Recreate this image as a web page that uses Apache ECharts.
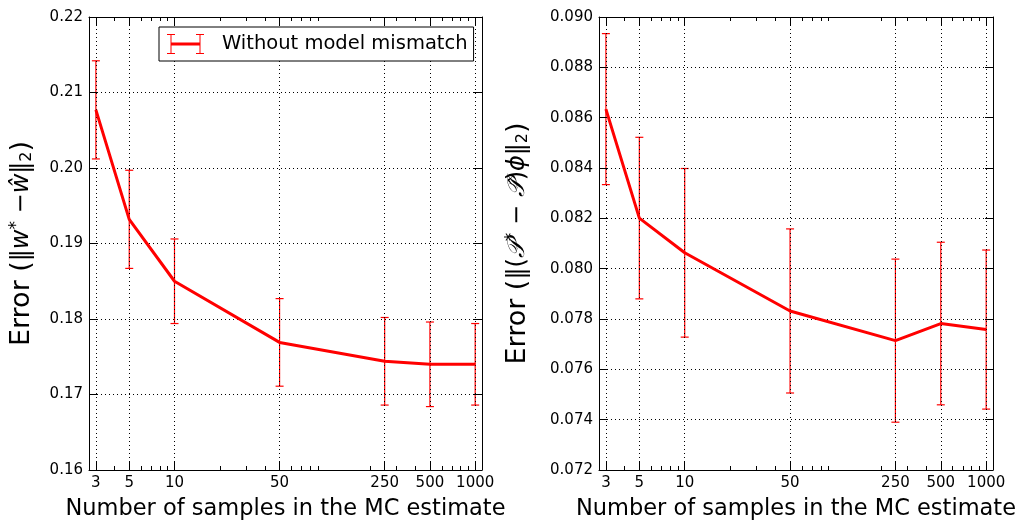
<!DOCTYPE html>
<html>
<head>
<meta charset="utf-8">
<title>Error vs number of MC samples</title>
<script src="https://cdn.jsdelivr.net/npm/echarts@6.0.0/dist/echarts.min.js"></script>
<style>
  html, body { margin: 0; padding: 0; background: #fff; }
  #chart { width: 1019px; height: 520px; }
</style>
</head>
<body>
<div id="chart"></div>
<script>
// number of samples (log x axis)
const samples = [3, 5, 10, 50, 250, 500, 1000]
const xTickLabels = [3, 5, 10, 50, 250, 500, 1000]
const xMinorTicks = [4, 6, 7, 8, 9, 20, 30, 40, 60, 70, 80, 90, 200, 300, 400, 600, 700, 800, 900]

// left panel: ||w* - w^||_2, mean and std
const errW = [0.2077, 0.1932, 0.1850, 0.1769, 0.1744, 0.1740, 0.1740]
const errWStd = [0.0065, 0.0065, 0.0056, 0.0058, 0.0058, 0.0056, 0.0054]

// right panel: ||(P* - P^)phi||_2, mean and std
const errP = [0.08634, 0.08201, 0.08063, 0.07832, 0.07714, 0.07782, 0.07758]
const errPStd = [0.00300, 0.00321, 0.00335, 0.00326, 0.00324, 0.00323, 0.00316]

// y ranges
const leftY = { min: 0.16, max: 0.22, interval: 0.01 }
const rightY = { min: 0.072, max: 0.090, interval: 0.002 }

const legendName = 'Without model mismatch'
const font = 'DejaVu Sans'
const red = '#ff0000'
const dotted = { color: '#000', width: 1, type: [1, 3] }

// legend icon: a little errorbar (two I-caps joined by a thick line)
const legendIcon = 'path://M0,0h8v1h-8z M3.5,0h1v20h-1z M0,19h8v1h-8z' +
  ' M29,0h8v1h-8z M32.5,0h1v20h-1z M29,19h8v1h-8z M4,8.5h29v3h-29z'

function errorBar(params, api) {
  const x = api.value(0)
  const top = api.coord([x, api.value(2)])
  const bot = api.coord([x, api.value(1)])
  const half = 4
  const style = { stroke: red, lineWidth: 1.2 }
  return {
    type: 'group',
    children: [
      { type: 'line', shape: { x1: top[0], y1: top[1], x2: bot[0], y2: bot[1] }, style },
      { type: 'line', shape: { x1: top[0] - half, y1: top[1], x2: top[0] + half, y2: top[1] }, style },
      { type: 'line', shape: { x1: bot[0] - half, y1: bot[1], x2: bot[0] + half, y2: bot[1] }, style }
    ]
  }
}

function makeXAxes(gridIndex) {
  const base = {
    type: 'log', gridIndex, min: 2.7, max: 1110, z: 1.5,
    axisLine: { show: false }, axisTick: { show: false },
    axisLabel: { show: false }, splitLine: { show: false }
  }
  const frame = { show: true, onZero: false, lineStyle: { color: '#000', width: 1 } }
  const major = { show: true, inside: true, length: 8, customValues: samples, lineStyle: { color: '#000' } }
  const minor = { show: true, inside: true, length: 4, customValues: xMinorTicks, lineStyle: { color: '#000' } }
  return [
    {
      ...base,
      position: 'bottom',
      name: 'Number of samples in the MC estimate',
      nameLocation: 'middle',
      nameGap: 26,
      nameTextStyle: { fontSize: 22.5, lineHeight: 26, color: '#000', fontFamily: font },
      axisLine: frame,
      axisTick: major,
      axisLabel: {
        show: true, customValues: xTickLabels, margin: 6,
        fontSize: 15, color: '#000', fontFamily: font,
        formatter: v => String(Math.round(v))
      },
      splitLine: { show: true, lineStyle: dotted }
    },
    { ...base, position: 'bottom', axisTick: minor },
    { ...base, position: 'top', axisLine: frame, axisTick: major },
    { ...base, position: 'top', axisTick: minor }
  ]
}

function makeYAxes(gridIndex, range, digits, name, nameGap) {
  const base = {
    type: 'value', gridIndex, min: range.min, max: range.max, interval: range.interval, z: 1.5,
    axisLine: { show: true, onZero: false, lineStyle: { color: '#000', width: 1 } },
    axisTick: { show: true, inside: true, length: 8, lineStyle: { color: '#000' } }
  }
  const txt = { fontFamily: font, color: '#000' }
  return [
    {
      ...base,
      position: 'left',
      name,
      nameLocation: 'middle',
      nameGap,
      nameTextStyle: {
        fontSize: 28, fontFamily: font, color: '#000', lineHeight: 34,
        rich: {
          t: { ...txt, fontSize: 27, lineHeight: 34 },
          m: { ...txt, fontSize: 24, lineHeight: 34 },
          i: { ...txt, fontSize: 24, fontStyle: 'italic', lineHeight: 34 },
          sup: { ...txt, fontSize: 17, lineHeight: 17, verticalAlign: 'top', padding: [3, 0, 0, 0] },
          sub: { ...txt, fontSize: 16, lineHeight: 16, verticalAlign: 'bottom', padding: [0, 0, 4, 0] }
        }
      },
      axisLabel: {
        margin: 6, fontSize: 15, color: '#000', fontFamily: font,
        formatter: v => v.toFixed(digits)
      },
      splitLine: { show: true, lineStyle: dotted }
    },
    { ...base, position: 'right', axisLabel: { show: false }, splitLine: { show: false } }
  ]
}

function panelSeries(xi, yi, name, means, stds) {
  return [
    {
      type: 'custom',
      xAxisIndex: xi,
      yAxisIndex: yi,
      z: 1,
      silent: true,
      renderItem: errorBar,
      encode: { x: 0, y: [1, 2] },
      data: samples.map((s, i) => [s, means[i] - stds[i], means[i] + stds[i]])
    },
    {
      type: 'line',
      name,
      xAxisIndex: xi,
      yAxisIndex: yi,
      z: 3,
      symbol: 'none',
      lineStyle: { color: red, width: 3 },
      itemStyle: { color: red },
      data: samples.map((s, i) => [s, means[i]])
    }
  ]
}

const leftName = '{t|Error (}{m|‖}{i|w}{sup|*}{m| −}{i|ŵ}{m|‖}{sub|2}{t|)}'
const rightName = '{t|Error (}{m|‖(}{i|𝒫}{sup|*}{m| − }{i|𝒫̂}{m|)}{i|ϕ}{m|‖}{sub|2}{t|)}'

const option = {
  animation: false,
  backgroundColor: '#fff',
  textStyle: { fontFamily: font },
  grid: [
    { left: 89, top: 17, width: 393, height: 453, containLabel: false, outerBoundsMode: 'none' },
    { left: 599, top: 17, width: 394, height: 453, containLabel: false, outerBoundsMode: 'none' }
  ],
  legend: {
    left: 159,
    top: 27,
    padding: [7, 6, 7, 8],
    borderColor: '#000',
    borderWidth: 1,
    borderRadius: 0,
    backgroundColor: '#fff',
    itemWidth: 37,
    itemHeight: 20,
    itemGap: 0,
    selectedMode: false,
    itemStyle: { borderWidth: 0 },
    textStyle: { fontSize: 19.5, color: '#000', fontFamily: font, padding: [0, 0, 0, 13] },
    data: [{ name: legendName, icon: legendIcon }]
  },
  xAxis: [...makeXAxes(0), ...makeXAxes(1)],
  yAxis: [
    ...makeYAxes(0, leftY, 2, leftName, 50),
    ...makeYAxes(1, rightY, 3, rightName, 64)
  ],
  series: [
    ...panelSeries(0, 0, legendName, errW, errWStd),
    ...panelSeries(4, 2, 'right', errP, errPStd)
  ]
}

const myChart = echarts.init(document.getElementById('chart'))
myChart.setOption(option)
</script>
</body>
</html>
